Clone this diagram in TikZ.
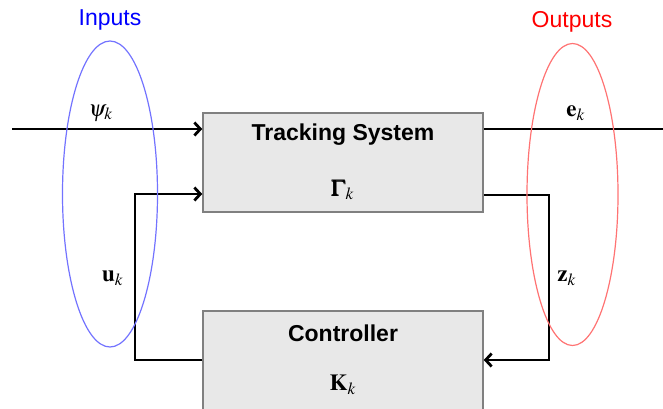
\documentclass[tikz,border=0pt]{standalone}
\usepackage{amsmath}
\usepackage{mathptmx}
\usepackage[no-math]{fontspec}
\setmainfont{Liberation Sans}
\usetikzlibrary{arrows,arrows.meta}
\definecolor{incol}{rgb}{0.45,0.45,1}
\definecolor{outcol}{rgb}{1,0.45,0.45}

\begin{document}
\begin{tikzpicture}[x=0.5pt, y=-0.5pt, every node/.style={font=\fontsize{11.5}{14}\selectfont},
  blockbox/.style={draw=gray, line width=0.75pt, fill=gray!18, minimum width=140pt, minimum height=49.5pt, inner sep=0pt},
  boxtitle/.style={font=\fontsize{11.5}{14}\selectfont\bfseries},
  sig/.style={line width=1.4pt, -{Straight Barb[length=3pt,width=6.5pt]}}]
\useasboundingbox (0,0) rectangle (663,408);
\node[blockbox] (track) at (343,162.5) {};   % plant block
\node[blockbox] (ctrl) at (343,360.5) {};    % controller block, cut by the page
\node[boxtitle] (tracktitle) at (343,135) {Tracking System};
\node (gam) at (343,190) {$\pmb{\Gamma}_k$};
\node[boxtitle] (ctrltitle) at (343,333) {Controller};
\node (kk) at (343,385) {$\mathbf{K}_k$};

\coordinate (psiin) at (12,129);
\coordinate (eout) at (663,129);
\coordinate (ucorner) at (135,360);
\coordinate (zcorner) at (549,195);
\draw[sig] (psiin) -- (psiin -| track.west);  % reference input
\draw[sig,-] (track.east |- eout) -- (eout);  % tracking error
\draw[sig] (ctrl.west |- ucorner) -- (ucorner) -- (ucorner |- 0,194) -- (track.west |- 0,194);
\draw[sig] (track.east |- zcorner) -- (zcorner) -- (zcorner |- 0,360) -- (ctrl.east |- 0,360);

\node (psi) at (101,113) {$\psi_k$};
\node (e) at (576,113) {$\mathbf{e}_k$};
\node (u) at (113,278) {$\mathbf{u}_k$};
\node (z) at (567,278) {$\mathbf{z}_k$};

\draw[incol, line width=0.6pt] (110,194) ellipse [x radius=23.75pt, y radius=76.5pt];
\draw[outcol, line width=0.6pt] (572.5,194.5) ellipse [x radius=22.75pt, y radius=75.5pt];
\node[text=blue] (inlab) at (110,20) {Inputs};
\node[text=red] (outlab) at (572,22) {Outputs};
\end{tikzpicture}
\end{document}
